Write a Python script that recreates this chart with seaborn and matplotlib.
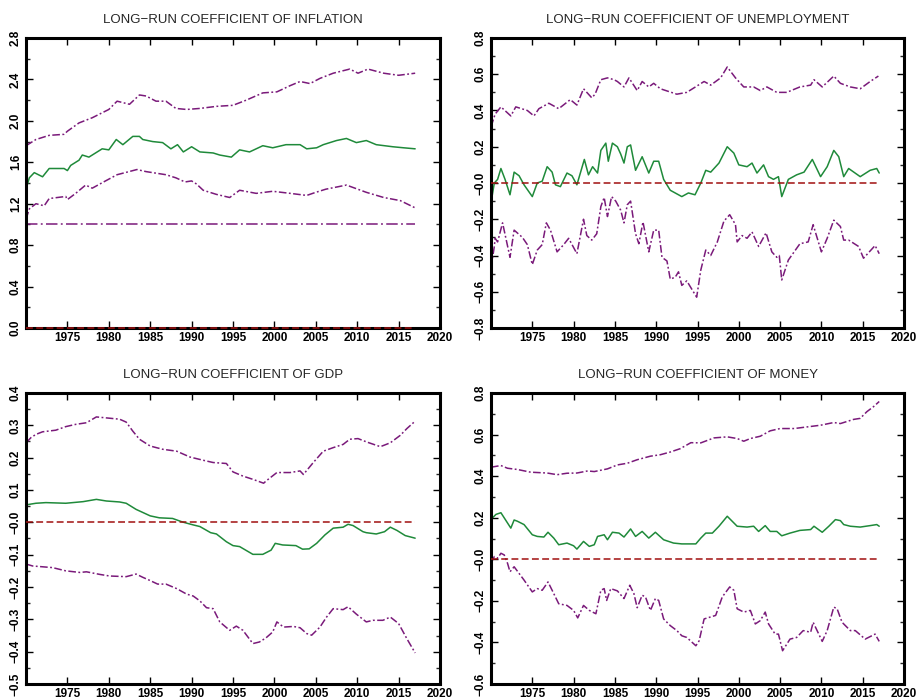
import numpy as np
import pandas as pd
import matplotlib
matplotlib.use("Agg")
import matplotlib.pyplot as plt
import seaborn as sns
from matplotlib.ticker import FixedLocator, FixedFormatter, MultipleLocator

# ---------------- DATA ----------------
# Inflation
infl_up_x = [1970.0, 1971.2, 1972.8, 1974.6, 1975.0, 1976.4, 1978.0, 1980.0, 1981.0, 1982.5, 1983.7, 1984.5,
             1985.7, 1986.9, 1988.1, 1989.4, 1991.0, 1993.0, 1995.0, 1996.6, 1998.6, 2000.3, 2001.9, 2003.1,
             2004.3, 2005.5, 2007.1, 2009.1, 2010.1, 2011.3, 2013.2, 2015.0, 2017.0]
infl_up_y = [1.76, 1.82, 1.86, 1.87, 1.90, 1.98, 2.03, 2.11, 2.19, 2.16, 2.25, 2.24,
             2.19, 2.19, 2.12, 2.11, 2.12, 2.14, 2.15, 2.20, 2.27, 2.28, 2.34, 2.38,
             2.36, 2.41, 2.46, 2.50, 2.46, 2.50, 2.46, 2.44, 2.46]
infl_med_x = [1970.0, 1970.4, 1971.0, 1972.0, 1972.8, 1974.6, 1975.0, 1975.4, 1976.4, 1976.8, 1977.6, 1979.2,
              1980.0, 1980.9, 1981.7, 1982.9, 1983.7, 1984.1, 1985.3, 1986.5, 1987.5, 1988.3, 1989.0, 1990.0,
              1991.0, 1992.6, 1993.4, 1994.8, 1995.8, 1997.0, 1998.6, 1999.8, 2001.4, 2003.1, 2003.9, 2005.1,
              2005.9, 2007.5, 2008.7, 2009.9, 2011.1, 2012.3, 2014.3, 2015.6, 2017.0]
infl_med_y = [1.34, 1.45, 1.50, 1.46, 1.54, 1.54, 1.52, 1.57, 1.62, 1.67, 1.65, 1.73,
              1.72, 1.82, 1.77, 1.85, 1.85, 1.82, 1.80, 1.79, 1.73, 1.77, 1.70, 1.75,
              1.70, 1.69, 1.67, 1.65, 1.72, 1.70, 1.76, 1.74, 1.77, 1.77, 1.73, 1.74,
              1.77, 1.81, 1.83, 1.79, 1.81, 1.77, 1.75, 1.74, 1.73]
infl_lo_x = [1970.0, 1970.4, 1971.2, 1972.2, 1972.8, 1974.8, 1975.0, 1976.0, 1977.2, 1978.0, 1979.6, 1981.0,
             1983.4, 1984.5, 1986.9, 1988.1, 1989.2, 1990.0, 1990.6, 1991.4, 1993.0, 1994.6, 1995.8, 1997.8,
             1999.8, 2001.9, 2003.9, 2005.0, 2006.2, 2008.7, 2011.1, 2013.2, 2015.2, 2017.0]
infl_lo_y = [1.05, 1.15, 1.20, 1.18, 1.25, 1.27, 1.24, 1.30, 1.38, 1.35, 1.42, 1.48,
             1.53, 1.51, 1.48, 1.45, 1.41, 1.42, 1.39, 1.33, 1.29, 1.26, 1.33, 1.30,
             1.32, 1.30, 1.28, 1.31, 1.34, 1.38, 1.31, 1.26, 1.23, 1.16]
infl_ref_x = [1970.0, 2017.0]
infl_ref_y = [1.0, 1.0]

# Unemployment
unem_up_x = [1970.0, 1970.5, 1971.2, 1972.4, 1973.0, 1974.4, 1975.2, 1975.8, 1977.0, 1978.2, 1979.6, 1980.4,
             1981.2, 1982.2, 1982.6, 1983.3, 1984.1, 1984.9, 1985.3, 1986.1, 1986.7, 1987.7, 1988.3, 1989.1,
             1989.7, 1990.5, 1992.5, 1993.7, 1995.8, 1996.6, 1997.8, 1998.6, 1999.6, 2000.6, 2001.8, 2002.6,
             2003.4, 2004.6, 2005.8, 2007.4, 2008.7, 2009.1, 2010.1, 2011.5, 2012.3, 2013.5, 2014.7, 2015.9,
             2016.9]
unem_up_y = [0.31, 0.38, 0.42, 0.37, 0.42, 0.40, 0.37, 0.41, 0.44, 0.41, 0.46, 0.43,
             0.52, 0.47, 0.49, 0.57, 0.58, 0.57, 0.56, 0.53, 0.58, 0.51, 0.56, 0.53,
             0.55, 0.52, 0.49, 0.50, 0.56, 0.54, 0.58, 0.64, 0.58, 0.53, 0.53, 0.51,
             0.53, 0.50, 0.50, 0.53, 0.54, 0.57, 0.53, 0.59, 0.55, 0.53, 0.52, 0.56,
             0.59]
unem_med_x = [1970.0, 1970.4, 1970.8, 1971.2, 1971.7, 1972.3, 1972.8, 1973.4, 1974.0, 1975.0, 1975.6, 1976.2,
              1976.8, 1977.4, 1977.8, 1978.4, 1979.2, 1979.8, 1980.4, 1981.3, 1981.8, 1982.3, 1982.9, 1983.3,
              1983.9, 1984.2, 1984.7, 1985.3, 1985.7, 1986.1, 1986.5, 1986.9, 1987.5, 1988.3, 1988.7, 1989.1,
              1989.7, 1990.3, 1990.9, 1991.7, 1992.3, 1993.1, 1993.9, 1994.7, 1995.4, 1996.0, 1996.6, 1997.6,
              1998.6, 1999.4, 2000.0, 2001.0, 2001.6, 2002.2, 2003.0, 2003.6, 2004.2, 2004.8, 2005.2, 2006.0,
              2007.0, 2007.9, 2008.9, 2009.9, 2010.7, 2011.5, 2012.1, 2012.7, 2013.3, 2014.7, 2015.9, 2016.7,
              2017.0]
unem_med_y = [-0.11, 0.00, 0.02, 0.08, 0.02, -0.065, 0.06, 0.04, -0.01, -0.075, 0.00, 0.01,
              0.09, 0.06, -0.01, -0.02, 0.055, 0.04, -0.01, 0.13, 0.045, 0.09, 0.055, 0.18,
              0.22, 0.12, 0.22, 0.20, 0.16, 0.11, 0.20, 0.21, 0.07, 0.145, 0.10, 0.055,
              0.12, 0.12, 0.02, -0.04, -0.055, -0.075, -0.055, -0.065, 0.00, 0.07, 0.06, 0.11,
              0.20, 0.165, 0.10, 0.09, 0.11, 0.055, 0.10, 0.035, 0.02, 0.035, -0.075, 0.02,
              0.045, 0.06, 0.13, 0.035, 0.09, 0.18, 0.145, 0.035, 0.08, 0.035, 0.07, 0.08,
              0.055]
unem_lo_x = [1970.0, 1970.4, 1970.5, 1970.8, 1971.4, 1972.3, 1972.8, 1973.8, 1974.4, 1975.0, 1975.6, 1976.2,
             1976.7, 1977.2, 1978.0, 1978.8, 1979.4, 1980.4, 1981.2, 1981.6, 1982.2, 1982.8, 1983.3, 1983.7,
             1984.1, 1984.6, 1985.1, 1985.7, 1986.1, 1986.5, 1986.9, 1987.5, 1987.9, 1988.4, 1989.1, 1989.7,
             1990.3, 1990.7, 1991.3, 1991.7, 1992.3, 1992.7, 1993.1, 1993.7, 1994.5, 1994.9, 1995.4, 1996.0,
             1996.6, 1997.4, 1998.2, 1998.9, 1999.6, 1999.8, 2000.4, 2001.0, 2001.6, 2002.4, 2003.3, 2004.0,
             2004.6, 2004.9, 2005.2, 2006.0, 2007.4, 2008.4, 2009.0, 2010.0, 2010.7, 2011.5, 2012.3, 2012.7,
             2013.3, 2014.5, 2015.1, 2015.7, 2016.5, 2017.0]
unem_lo_y = [-0.47, -0.35, -0.305, -0.325, -0.22, -0.41, -0.26, -0.30, -0.34, -0.45, -0.37, -0.34,
             -0.22, -0.26, -0.38, -0.34, -0.305, -0.39, -0.20, -0.29, -0.315, -0.28, -0.13, -0.08,
             -0.185, -0.075, -0.10, -0.15, -0.22, -0.12, -0.10, -0.28, -0.335, -0.215, -0.38, -0.26,
             -0.26, -0.41, -0.43, -0.53, -0.52, -0.49, -0.565, -0.54, -0.60, -0.63, -0.48, -0.37,
             -0.40, -0.325, -0.21, -0.175, -0.23, -0.325, -0.29, -0.305, -0.27, -0.35, -0.275, -0.38,
             -0.41, -0.40, -0.535, -0.425, -0.335, -0.325, -0.23, -0.38, -0.305, -0.205, -0.24, -0.315,
             -0.315, -0.35, -0.415, -0.385, -0.345, -0.39]

# GDP
gdp_up_x = [1970.0, 1970.6, 1971.2, 1972.0, 1973.6, 1974.8, 1976.0, 1977.3, 1978.5, 1980.1, 1981.3, 1982.1,
            1982.9, 1983.7, 1985.0, 1986.5, 1988.2, 1989.8, 1991.4, 1992.6, 1994.2, 1995.0, 1996.2, 1997.4,
            1998.7, 1999.0, 2000.3, 2001.9, 2003.1, 2003.5, 2004.7, 2005.9, 2007.1, 2008.3, 2009.1, 2010.1,
            2011.2, 2012.8, 2014.0, 2015.2, 2016.0, 2017.0]
gdp_up_y = [0.246, 0.262, 0.272, 0.280, 0.285, 0.296, 0.303, 0.308, 0.326, 0.322, 0.319, 0.310,
            0.282, 0.257, 0.236, 0.226, 0.220, 0.202, 0.192, 0.185, 0.182, 0.156, 0.143, 0.133,
            0.121, 0.128, 0.154, 0.154, 0.159, 0.148, 0.185, 0.220, 0.231, 0.241, 0.257, 0.259,
            0.248, 0.234, 0.246, 0.269, 0.290, 0.313]
gdp_med_x = [1970.0, 1971.2, 1972.4, 1974.8, 1976.9, 1978.5, 1979.7, 1981.3, 1982.1, 1983.3, 1985.0, 1986.1,
             1987.7, 1988.9, 1990.2, 1991.0, 1992.3, 1993.0, 1994.2, 1995.0, 1995.8, 1997.4, 1998.6, 1999.6,
             2000.1, 2001.0, 2002.6, 2003.4, 2004.2, 2005.1, 2006.1, 2007.1, 2008.3, 2008.9, 2009.5, 2010.7,
             2011.1, 2012.3, 2013.3, 2014.0, 2014.8, 2015.8, 2017.0]
gdp_med_y = [0.054, 0.059, 0.061, 0.059, 0.064, 0.071, 0.066, 0.063, 0.059, 0.040, 0.020, 0.014,
             0.012, 0.001, -0.008, -0.013, -0.032, -0.036, -0.060, -0.072, -0.075, -0.099, -0.099, -0.086,
             -0.065, -0.070, -0.072, -0.083, -0.082, -0.065, -0.039, -0.018, -0.015, -0.006, -0.010, -0.029,
             -0.032, -0.036, -0.029, -0.015, -0.025, -0.041, -0.049]
gdp_lo_x = [1970.0, 1970.8, 1973.2, 1974.8, 1976.5, 1977.3, 1978.9, 1980.1, 1982.1, 1983.3, 1984.1, 1984.9,
            1985.9, 1986.9, 1988.2, 1989.4, 1990.2, 1991.0, 1991.8, 1992.6, 1993.4, 1994.6, 1995.4, 1996.2,
            1997.4, 1998.2, 1999.0, 1999.8, 2000.3, 2001.1, 2002.3, 2003.1, 2003.9, 2004.5, 2005.5, 2006.3,
            2007.1, 2008.3, 2008.9, 2009.9, 2011.1, 2011.9, 2013.1, 2014.0, 2015.0, 2016.0, 2017.0]
gdp_lo_y = [-0.129, -0.135, -0.140, -0.150, -0.155, -0.153, -0.161, -0.166, -0.168, -0.160, -0.170, -0.179,
            -0.191, -0.191, -0.205, -0.222, -0.228, -0.243, -0.264, -0.267, -0.308, -0.334, -0.321, -0.334,
            -0.375, -0.370, -0.357, -0.339, -0.308, -0.324, -0.322, -0.326, -0.344, -0.349, -0.324, -0.293,
            -0.267, -0.270, -0.261, -0.284, -0.308, -0.303, -0.303, -0.293, -0.313, -0.360, -0.404]

# Money
mon_up_x = [1970.0, 1971.2, 1972.0, 1973.2, 1974.8, 1976.8, 1978.0, 1979.2, 1980.4, 1981.7, 1982.5, 1984.1,
            1985.3, 1986.5, 1987.7, 1989.3, 1990.5, 1991.7, 1992.9, 1994.2, 1995.4, 1997.0, 1998.6, 1999.8,
            2000.6, 2001.4, 2002.6, 2003.8, 2005.0, 2006.7, 2008.3, 2009.9, 2011.5, 2012.3, 2013.9, 2014.7,
            2015.5, 2016.3, 2017.0]
mon_up_y = [0.443, 0.451, 0.438, 0.432, 0.419, 0.415, 0.407, 0.414, 0.415, 0.425, 0.422, 0.435,
            0.454, 0.462, 0.479, 0.496, 0.503, 0.516, 0.532, 0.561, 0.560, 0.584, 0.589, 0.581,
            0.568, 0.581, 0.592, 0.618, 0.629, 0.629, 0.637, 0.645, 0.658, 0.653, 0.673, 0.678,
            0.710, 0.734, 0.759]
mon_med_x = [1970.0, 1970.6, 1971.2, 1972.4, 1972.8, 1973.2, 1974.0, 1975.0, 1975.6, 1976.4, 1976.9, 1977.6,
             1978.2, 1979.2, 1980.0, 1980.4, 1981.2, 1981.9, 1982.5, 1982.9, 1983.7, 1984.1, 1984.7, 1985.5,
             1986.1, 1986.9, 1987.5, 1988.3, 1989.1, 1989.9, 1990.9, 1992.1, 1993.1, 1994.2, 1994.8, 1995.4,
             1996.0, 1996.8, 1997.6, 1998.6, 1999.0, 1999.8, 2001.0, 2001.8, 2002.4, 2003.2, 2003.8, 2004.6,
             2005.2, 2006.2, 2007.4, 2008.7, 2009.1, 2010.1, 2010.9, 2011.7, 2012.3, 2012.7, 2013.5, 2014.7,
             2015.9, 2016.7, 2017.0]
mon_med_y = [0.192, 0.216, 0.224, 0.150, 0.189, 0.183, 0.167, 0.118, 0.110, 0.107, 0.130, 0.102,
             0.070, 0.078, 0.065, 0.049, 0.086, 0.062, 0.070, 0.110, 0.118, 0.094, 0.130, 0.126,
             0.107, 0.146, 0.110, 0.134, 0.102, 0.130, 0.094, 0.078, 0.074, 0.074, 0.074, 0.102,
             0.126, 0.126, 0.159, 0.207, 0.191, 0.159, 0.155, 0.159, 0.134, 0.162, 0.134, 0.134,
             0.113, 0.126, 0.139, 0.143, 0.159, 0.130, 0.159, 0.191, 0.186, 0.167, 0.159, 0.155,
             0.162, 0.167, 0.159]
mon_lo_x = [1970.0, 1970.4, 1970.8, 1971.2, 1971.6, 1972.0, 1972.3, 1972.8, 1974.0, 1975.0, 1975.6, 1976.2,
            1976.9, 1977.4, 1978.2, 1979.2, 1980.0, 1980.5, 1981.2, 1981.9, 1982.7, 1983.3, 1983.7, 1984.0,
            1984.5, 1985.3, 1986.1, 1986.8, 1987.3, 1987.7, 1988.3, 1988.7, 1989.3, 1989.9, 1990.3, 1990.9,
            1991.7, 1992.5, 1993.1, 1993.7, 1994.8, 1995.2, 1995.8, 1997.2, 1998.0, 1998.9, 1999.4, 1999.8,
            2000.6, 2001.4, 2002.0, 2002.6, 2003.2, 2003.6, 2004.4, 2004.8, 2005.3, 2006.2, 2007.0, 2007.8,
            2008.7, 2009.0, 2010.1, 2010.7, 2011.5, 2011.9, 2012.5, 2013.5, 2014.1, 2015.3, 2016.5, 2017.0]
mon_lo_y = [-0.019, 0.013, 0.005, 0.029, 0.021, -0.019, -0.060, -0.036, -0.100, -0.157, -0.141, -0.149,
            -0.109, -0.149, -0.214, -0.222, -0.246, -0.282, -0.222, -0.246, -0.262, -0.149, -0.141, -0.198,
            -0.141, -0.152, -0.189, -0.125, -0.165, -0.233, -0.173, -0.181, -0.246, -0.189, -0.198, -0.287,
            -0.319, -0.343, -0.368, -0.376, -0.416, -0.392, -0.287, -0.270, -0.181, -0.133, -0.149, -0.238,
            -0.254, -0.246, -0.311, -0.295, -0.254, -0.311, -0.360, -0.360, -0.440, -0.384, -0.376, -0.343,
            -0.351, -0.303, -0.395, -0.343, -0.230, -0.238, -0.303, -0.343, -0.343, -0.384, -0.360, -0.395]

zero_x = [1970.0, 2017.0]
zero_y = [0.0, 0.0]

titles = ["LONG\u2212RUN COEFFICIENT OF INFLATION",
          "LONG\u2212RUN COEFFICIENT OF UNEMPLOYMENT",
          "LONG\u2212RUN COEFFICIENT OF GDP",
          "LONG\u2212RUN COEFFICIENT OF MONEY"]

x_ticks = [1975, 1980, 1985, 1990, 1995, 2000, 2005, 2010, 2015, 2020]

infl_yticks = [0.0, 0.4, 0.8, 1.2, 1.6, 2.0, 2.4, 2.8]
infl_ylabels = ["0.0", "0.4", "0.8", "1.2", "1.6", "2.0", "2.4", "2.8"]
unem_yticks = [-0.8, -0.6, -0.4, -0.2, 0.0, 0.2, 0.4, 0.6, 0.8]
unem_ylabels = ["\u22120.8", "\u22120.6", "\u22120.4", "\u22120.2", "\u22120.0", "0.2", "0.4", "0.6", "0.8"]
gdp_yticks = [-0.5, -0.4, -0.3, -0.2, -0.1, 0.0, 0.1, 0.2, 0.3, 0.4]
gdp_ylabels = ["\u22120.5", "\u22120.4", "\u22120.3", "\u22120.2", "\u22120.1", "\u22120.0", "0.1", "0.2", "0.3", "0.4"]
mon_yticks = [-0.6, -0.4, -0.2, 0.0, 0.2, 0.4, 0.6, 0.8]
mon_ylabels = ["\u22120.6", "\u22120.4", "\u22120.2", "\u22120.0", "0.2", "0.4", "0.6", "0.8"]

# ---------------- STYLE ----------------
sns.set_style("white")
plt.rcParams['font.family'] = ['Liberation Sans', 'DejaVu Sans']

GREEN = "#1f8a3a"
PURPLE = "#7a1a7a"
RED = "#a01010"
BAND_DASH = (0, (5, 1.6, 1.2, 1.6))
REF_DASH = (0, (7.5, 2.2, 1.2, 2.2))
ZERO_DASH = (0, (4.5, 2.2))

fig = plt.figure(figsize=(9.17, 6.99), dpi=100)
W, H = 917, 699

def make_ax(l, r, t, b):
    return fig.add_axes([l / W, 1 - b / H, (r - l) / W, (b - t) / H])

axes = [make_ax(26, 440, 38, 328), make_ax(491, 904, 38, 328),
        make_ax(26, 440, 393, 684), make_ax(491, 904, 393, 684)]

def line(ax, x, y, color, ls, lw=1.1, z=2, clip=True):
    df = pd.DataFrame({"year": x, "val": y})
    sns.lineplot(data=df, x="year", y="val", ax=ax, color=color, linestyle=ls,
                 linewidth=lw, estimator=None, sort=False, zorder=z, clip_on=clip)

panels = [
    dict(series=[(infl_up_x, infl_up_y, PURPLE, BAND_DASH), (infl_med_x, infl_med_y, GREEN, "-"),
                 (infl_lo_x, infl_lo_y, PURPLE, BAND_DASH), (infl_ref_x, infl_ref_y, PURPLE, REF_DASH)],
         ylim=(0.0, 2.8), yt=infl_yticks, yl=infl_ylabels, minor=0.2),
    dict(series=[(unem_up_x, unem_up_y, PURPLE, BAND_DASH), (unem_med_x, unem_med_y, GREEN, "-"),
                 (unem_lo_x, unem_lo_y, PURPLE, BAND_DASH)],
         ylim=(-0.8, 0.8), yt=unem_yticks, yl=unem_ylabels, minor=0.1),
    dict(series=[(gdp_up_x, gdp_up_y, PURPLE, BAND_DASH), (gdp_med_x, gdp_med_y, GREEN, "-"),
                 (gdp_lo_x, gdp_lo_y, PURPLE, BAND_DASH)],
         ylim=(-0.5, 0.4), yt=gdp_yticks, yl=gdp_ylabels, minor=0.05),
    dict(series=[(mon_up_x, mon_up_y, PURPLE, BAND_DASH), (mon_med_x, mon_med_y, GREEN, "-"),
                 (mon_lo_x, mon_lo_y, PURPLE, BAND_DASH)],
         ylim=(-0.6, 0.8), yt=mon_yticks, yl=mon_ylabels, minor=0.1),
]

for ax, p, title in zip(axes, panels, titles):
    for (x, y, c, ls) in p["series"]:
        line(ax, x, y, c, ls)
    line(ax, zero_x, zero_y, RED, ZERO_DASH, lw=1.1, z=5, clip=False)
    ax.set_xlim(1970, 2020)
    ax.set_ylim(*p["ylim"])
    ax.xaxis.set_major_locator(FixedLocator(x_ticks))
    ax.set_xticklabels([str(t) for t in x_ticks])
    ax.yaxis.set_major_locator(FixedLocator(p["yt"]))
    ax.yaxis.set_major_formatter(FixedFormatter(p["yl"]))
    ax.yaxis.set_minor_locator(MultipleLocator(p["minor"]))
    ax.set_xlabel("")
    ax.set_ylabel("")
    ax.tick_params(axis="both", which="major", direction="in", length=5, width=1.0,
                   top=True, right=True, bottom=True, left=True, labelsize=8.5, pad=3, colors="black")
    ax.tick_params(axis="y", which="minor", direction="in", length=3, width=1.0, left=True, right=True)
    for lab in ax.get_yticklabels():
        lab.set_rotation(90)
        lab.set_va("center")
        lab.set_fontweight("bold")
    for lab in ax.get_xticklabels():
        lab.set_fontweight("bold")
    for s in ax.spines.values():
        s.set_visible(True)
        s.set_linewidth(2.2)
        s.set_color("black")
    ax.set_title(title, fontsize=9.5, pad=11)
    ax.grid(False)
    ax.set_facecolor("white")

fig.savefig("out.png", dpi=100, facecolor="white")
